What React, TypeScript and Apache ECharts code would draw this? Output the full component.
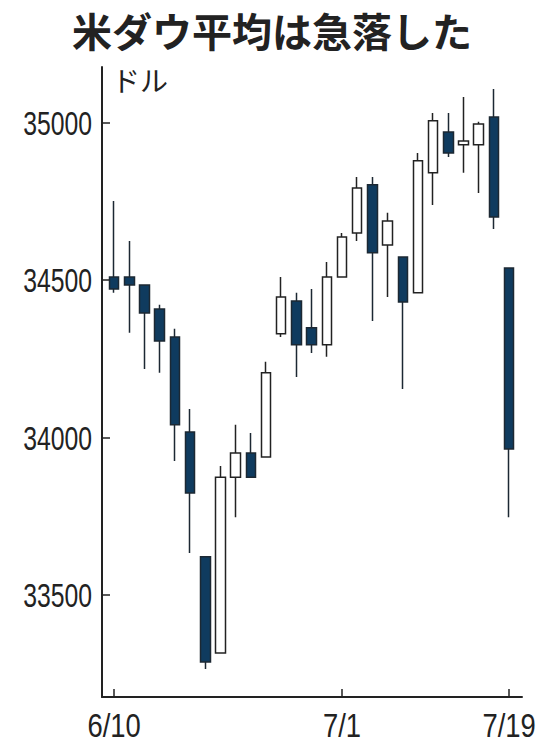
import React, { useEffect, useRef } from "react";
import * as echarts from "echarts";

const dates = [
  "6/10", "6/11", "6/14", "6/15", "6/16", "6/17", "6/18", "6/21", "6/22", "6/23",
  "6/24", "6/25", "6/28", "6/29", "6/30", "7/1", "7/2", "7/6", "7/7", "7/8",
  "7/9", "7/12", "7/13", "7/14", "7/15", "7/16", "7/19",
];
const opens = [
  34509, 34509, 34484, 34408, 34319, 34017, 33621, 33316, 33874, 33951,
  33938, 34329, 34433, 34348, 34294, 34509, 34649, 34802, 34611, 34573,
  34459, 34840, 34970, 34929, 34929, 35017, 34538,
];
const closes = [
  34471, 34484, 34395, 34306, 34040, 33824, 33287, 33874, 33951, 33874,
  34205, 34446, 34294, 34294, 34509, 34636, 34792, 34586, 34687, 34430,
  34878, 35005, 34903, 34941, 34995, 34700, 33963,
];
const lows = [
  34459, 34332, 34217, 34205, 33925, 33633, 33265, 33316, 33747, 33874,
  33938, 34319, 34192, 34268, 34256, 34509, 34624, 34370, 34446, 34154,
  34459, 34738, 34890, 34840, 34776, 34662, 33747,
];
const highs = [
  34751, 34624, 34484, 34421, 34345, 34090, 33621, 33909, 34040, 34014,
  34240, 34509, 34459, 34471, 34557, 34649, 34827, 34827, 34713, 34573,
  34903, 35030, 35030, 35081, 35002, 35106, 34538,
];
const yTicks = [33500, 34000, 34500, 35000];
const xLabelIdx = [0, 15, 26];

const title = "米ダウ平均は急落した";
const unit = "ドル";

const numFont = '"Liberation Sans", Arial, sans-serif';
const cjk = '"Noto Sans CJK JP", "Noto Sans", sans-serif';
const X_MIN = -0.8;
const X_MAX = 26.85;
const Y_MIN = 33176;
const Y_MAX = 35176;

export default function App() {
  const ref = useRef<HTMLDivElement>(null);
  useEffect(() => {
    document.body.style.margin = "0";
    const chart = echarts.init(ref.current!, null, { renderer: "svg" });
    const data = dates.map((_, i) => [i, opens[i], closes[i], lows[i], highs[i]]);
    chart.setOption({
      animation: false,
      backgroundColor: "#ffffff",
      grid: { left: 102, right: 22, top: 67, bottom: 59, containLabel: false, outerBoundsMode: "none" },
      xAxis: {
        type: "value",
        min: X_MIN,
        max: X_MAX,
        splitLine: { show: false },
        axisLine: { show: true, onZero: false, lineStyle: { color: "#222222", width: 2 } },
        axisTick: {
          show: true,
          inside: true,
          length: 8,
          customValues: xLabelIdx,
          lineStyle: { color: "#222222", width: 1.5 },
        },
        axisLabel: { show: false },
      },
      yAxis: {
        type: "value",
        min: Y_MIN,
        max: Y_MAX,
        splitLine: { show: false },
        axisLine: { show: true, onZero: false, lineStyle: { color: "#222222", width: 2 } },
        axisTick: {
          show: true,
          inside: true,
          length: 8,
          customValues: yTicks,
          lineStyle: { color: "#222222", width: 1.5 },
        },
        axisLabel: { show: false },
      },
      series: [
        {
          type: "candlestick",
          barWidth: 10,
          encode: { x: 0, y: [1, 2, 3, 4] },
          data,
          itemStyle: {
            color: "#ffffff",
            borderColor: "#222222",
            color0: "#0f3b5f",
            borderColor0: "#1c2833",
            borderWidth: 1.5,
          },
        },
      ],
    });

    const texts: any[] = [
      {
        type: "text",
        left: "center",
        top: 10,
        style: { text: title, font: `bold 40px ${cjk}`, fill: "#222222" },
      },
      {
        type: "text",
        left: 112,
        top: 66,
        style: { text: unit, font: `28px ${cjk}`, fill: "#222222" },
      },
    ];
    yTicks.forEach((v) => {
      const p = chart.convertToPixel({ xAxisIndex: 0, yAxisIndex: 0 }, [X_MIN, v]) as number[];
      texts.push({
        type: "text",
        x: p[0] - 10,
        y: p[1] + 1,
        scaleX: 0.75,
        style: {
          text: String(v),
          font: `33px ${numFont}`,
          fill: "#222222",
          align: "right",
          verticalAlign: "middle",
        },
      });
    });
    xLabelIdx.forEach((i) => {
      const p = chart.convertToPixel({ xAxisIndex: 0, yAxisIndex: 0 }, [i, Y_MIN]) as number[];
      texts.push({
        type: "text",
        x: p[0],
        y: p[1] + 12,
        scaleX: 0.83,
        style: {
          text: dates[i],
          font: `33px ${numFont}`,
          fill: "#222222",
          align: "center",
          verticalAlign: "top",
        },
      });
    });
    chart.setOption({ graphic: texts });
    return () => chart.dispose();
  }, []);
  return <div ref={ref} style={{ width: 544, height: 756 }} />;
}
